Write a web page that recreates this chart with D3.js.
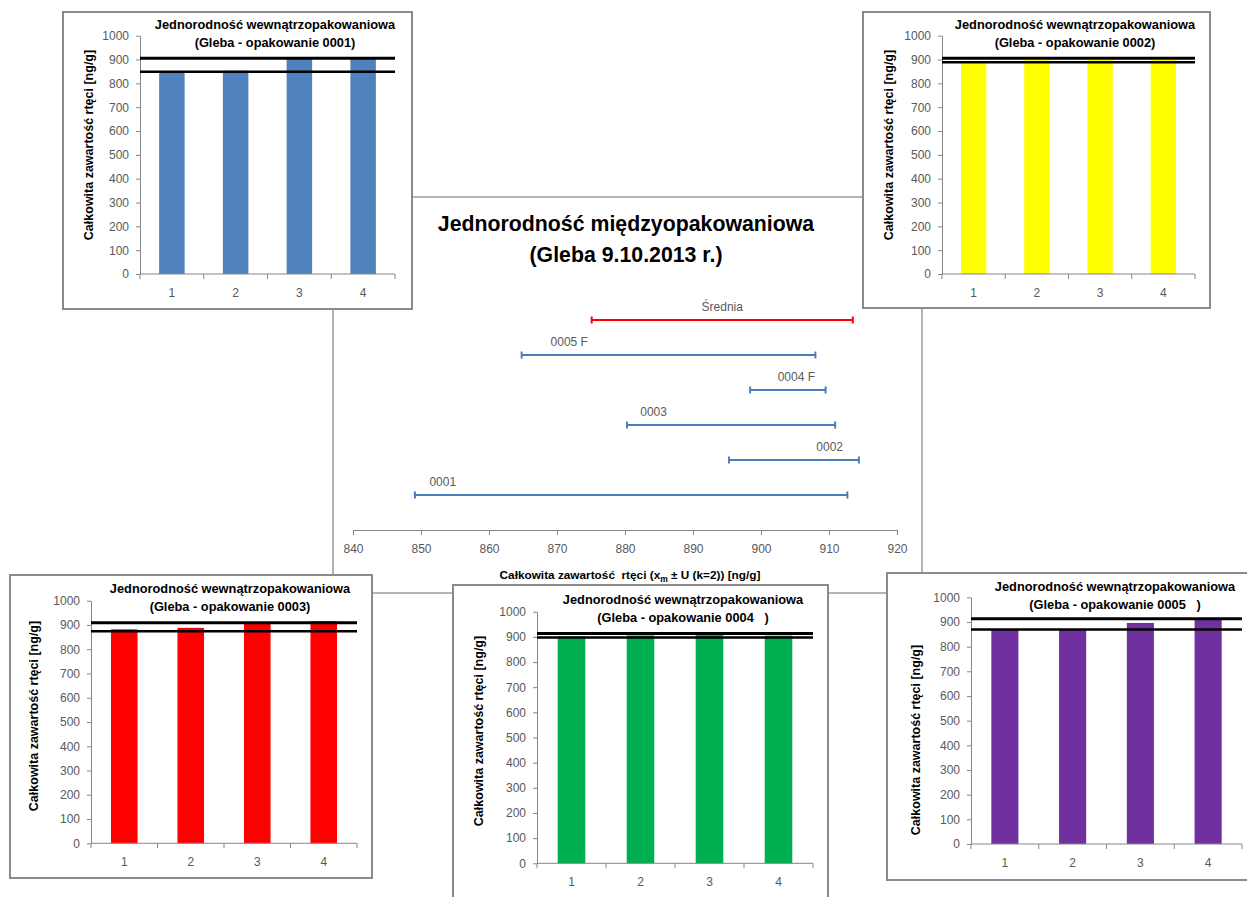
<!DOCTYPE html>
<html><head><meta charset="utf-8">
<script src="https://cdn.jsdelivr.net/npm/d3@7"></script>
<style>
body{margin:0;background:#fff;}
svg{font-family:"Liberation Sans",Arial,sans-serif;}
text{white-space:pre;}
</style></head>
<body><svg id="c" width="1247" height="897"></svg>
<script>
// ---------- DATA ----------
const categories = ["1", "2", "3", "4"];
const yTicks = [0,100,200,300,400,500,600,700,800,900,1000];

const values0001 = [848, 853, 905, 907];
const values0002 = [893, 897, 900, 899];
const values0003 = [882, 888, 905, 915];
const values0004 = [902, 906, 908, 905];
const values0005 = [868, 870, 896, 912];

const limits0001 = [849, 905];
const limits0002 = [889, 905];
const limits0003 = [874, 909];
const limits0004 = [897, 913];
const limits0005 = [869, 913];

const panelNames = ["0001", "0002", "0003", "0004   ", "0005   "];

// central chart (x_m ± U)
const intervalNames = ["0001", "0002", "0003", "0004 F", "0005 F", "Średnia"];
const intervalLow  = [849.1, 895.3, 880.3, 898.4, 864.8, 875.1];
const intervalHigh = [912.7, 914.4, 910.9, 909.5, 908.0, 913.5];
const intervalLabelAt = [853.2, 910.1, 884.2, 905.2, 871.8, 894.3];
const centralTicks = [840, 850, 860, 870, 880, 890, 900, 910, 920];

// ---------- DRAW ----------
const svg = d3.select("#c");
const axisGray = "#868686", tickText = "#595959";

// central chart frame
const cf = {x0:333, y0:197, x1:922, y1:593};
svg.append("rect").attr("x",cf.x0).attr("y",cf.y0).attr("width",cf.x1-cf.x0).attr("height",cf.y1-cf.y0)
  .attr("fill","#fff").attr("stroke","#8c8c8c").attr("stroke-width",1.3);

svg.append("text").attr("x",626).attr("y",231).attr("text-anchor","middle")
  .attr("font-size",21.3).attr("font-weight","bold").text("Jednorodność międzyopakowaniowa");
svg.append("text").attr("x",626).attr("y",262).attr("text-anchor","middle")
  .attr("font-size",21.3).attr("font-weight","bold").text("(Gleba 9.10.2013 r.)");

const cx = d3.scaleLinear().domain([840,920]).range([353,897]);
const cy = d3.scalePoint().domain(intervalNames).range([530,285]).padding(1);
const cAxis = svg.append("g").attr("transform","translate(0,530)")
  .call(d3.axisBottom(cx).tickValues(centralTicks).tickSize(5).tickSizeOuter(0).tickPadding(9).tickFormat(d3.format("d")));
cAxis.select(".domain").attr("stroke",axisGray);
cAxis.selectAll(".tick line").attr("stroke",axisGray);
cAxis.selectAll(".tick text").attr("fill",tickText).attr("font-size",12).attr("font-family","Liberation Sans, Arial");

const ct = svg.append("text").attr("x",630).attr("y",579).attr("text-anchor","middle")
  .attr("font-size",11.8).attr("font-weight","bold");
ct.append("tspan").text("Całkowita zawartość  rtęci (x");
ct.append("tspan").attr("font-size",8.5).attr("dy",3).text("m");
ct.append("tspan").attr("dy",-3).text(" ± U (k=2)) [ng/g]");

const ig = svg.append("g");
intervalNames.forEach((n,i)=>{
  const col = n === "Średnia" ? "#ff0000" : "#4a7ebb";
  const y = cy(n);
  ig.append("line").attr("x1",cx(intervalLow[i])).attr("x2",cx(intervalHigh[i]))
    .attr("y1",y).attr("y2",y).attr("stroke",col).attr("stroke-width",2);
  [intervalLow[i], intervalHigh[i]].forEach(v=>{
    ig.append("line").attr("x1",cx(v)).attr("x2",cx(v)).attr("y1",y-3.5).attr("y2",y+3.5)
      .attr("stroke",col).attr("stroke-width",2);
  });
  ig.append("text").attr("x",cx(intervalLabelAt[i])).attr("y",y-9).attr("text-anchor","middle")
    .attr("font-size",12).attr("fill",tickText).text(n);
});

// panels
const panelValues = [values0001, values0002, values0003, values0004, values0005];
const panelLimits = [limits0001, limits0002, limits0003, limits0004, limits0005];
const panelColors = ["#4f81bd", "#ffff00", "#ff0000", "#00b050", "#7030a0"];
const layout = [
  {box:[63,12,412,309], px:[140,395], py:[274,35.7], tx:275, ty:29, ytx:88, yty:145},
  {box:[863,12,1210,308], px:[942,1195], py:[274,35.7], tx:1075, ty:29, ytx:888, yty:145},
  {box:[10,575,372,878], px:[91,357], py:[843.3,600.7], tx:230, ty:593, ytx:33, yty:716},
  {box:[453,585,828,910], px:[537,813], py:[863.3,611.7], tx:683, ty:604, ytx:478, yty:731},
  {box:[887,573,1252,880], px:[971,1242], py:[844,597.3], tx:1115, ty:591, ytx:915, yty:740}
];

layout.forEach((L,p)=>{
  const g = svg.append("g");
  g.append("rect").attr("x",L.box[0]).attr("y",L.box[1]).attr("width",L.box[2]-L.box[0]).attr("height",L.box[3]-L.box[1])
    .attr("fill","#fff").attr("stroke","#8a8a8a").attr("stroke-width",2);
  const x = d3.scaleBand().domain(categories).range(L.px).padding(0);
  const y = d3.scaleLinear().domain([0,1000]).range(L.py);
  // bars
  g.selectAll("rect.bar").data(panelValues[p]).join("rect").attr("class","bar")
    .attr("x",(d,i)=>x(categories[i]) + x.bandwidth()*0.3)
    .attr("width",x.bandwidth()*0.4)
    .attr("y",d=>y(d)).attr("height",d=>y(0)-y(d))
    .attr("fill",panelColors[p]);
  // y axis
  const ya = g.append("g").attr("transform",`translate(${L.px[0]},0)`)
    .call(d3.axisLeft(y).tickValues(yTicks).tickSize(4).tickSizeOuter(0).tickPadding(7).tickFormat(d3.format("d")));
  ya.select(".domain").attr("stroke",axisGray);
  ya.selectAll(".tick line").attr("stroke",axisGray);
  ya.selectAll(".tick text").attr("fill",tickText).attr("font-size",12).attr("font-family","Liberation Sans, Arial");
  // x axis
  g.append("line").attr("x1",L.px[0]).attr("x2",L.px[1]).attr("y1",y(0)).attr("y2",y(0)).attr("stroke",axisGray);
  categories.concat(["end"]).forEach((c,i)=>{
    const xx = L.px[0] + i*x.step();
    g.append("line").attr("x1",xx).attr("x2",xx).attr("y1",y(0)).attr("y2",y(0)+5).attr("stroke",axisGray);
  });
  g.selectAll("text.cat").data(categories).join("text").attr("class","cat")
    .attr("x",d=>x(d)+x.bandwidth()/2).attr("y",y(0)+23).attr("text-anchor","middle")
    .attr("font-size",12).attr("fill",tickText).text(d=>d);
  // limit lines
  panelLimits[p].forEach((v,k)=>{
    g.append("line").attr("x1",L.px[0]).attr("x2",L.px[1]).attr("y1",y(v)).attr("y2",y(v))
      .attr("stroke","#000").attr("stroke-width",k===1?3:2.5);
  });
  // titles
  g.append("text").attr("x",L.tx).attr("y",L.ty).attr("text-anchor","middle")
    .attr("font-size",12.8).attr("font-weight","bold").text("Jednorodność wewnątrzopakowaniowa");
  g.append("text").attr("x",L.tx).attr("y",L.ty+18).attr("text-anchor","middle")
    .attr("font-size",12.8).attr("font-weight","bold").text("(Gleba - opakowanie " + panelNames[p] + ")");
  g.append("text").attr("transform",`translate(${L.ytx+4.5},${L.yty}) rotate(-90)`).attr("text-anchor","middle")
    .attr("font-size",12.5).attr("font-weight","bold").text("Całkowita zawartość rtęci [ng/g]");
});
</script></body></html>
